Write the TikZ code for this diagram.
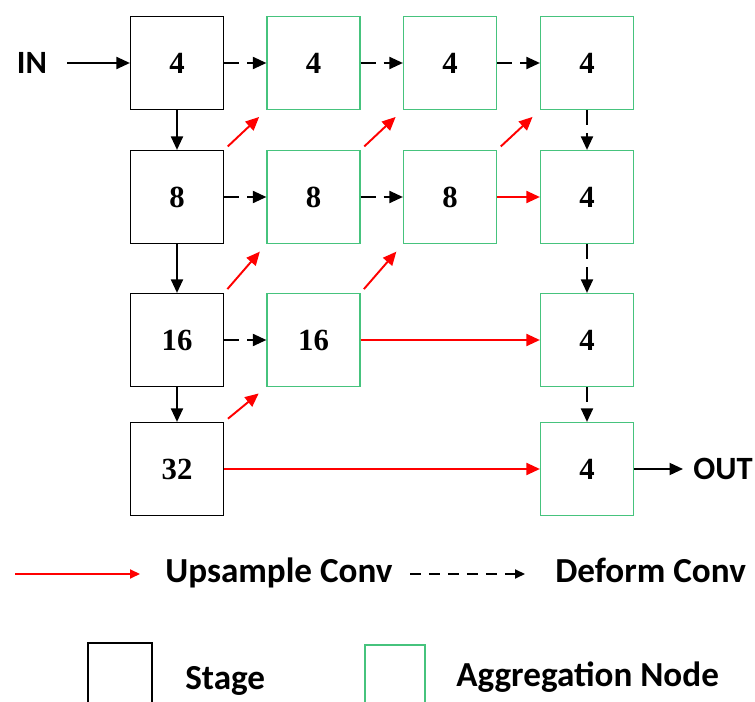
\documentclass[tikz,border=0pt]{standalone}
\usepackage{fontspec}
\setmainfont{Liberation Serif}
\newfontfamily\labelfont{Carlito}
\usetikzlibrary{arrows.meta}
\definecolor{aggGreen}{RGB}{70,195,125}
\definecolor{upRed}{RGB}{255,0,0}
\tikzset{
  stagebox/.style={draw=black, line width=0.7pt, minimum size=1.86cm, inner sep=0pt,
    font=\fontsize{17.5}{20}\selectfont\bfseries},
  aggbox/.style={stagebox, draw=aggGreen},
  plain/.style={-{Triangle[length=0.27cm,width=0.24cm]}, line width=1.1pt},
  deform/.style={plain, dash pattern=on 0.3cm off 0.16cm},
  upconv/.style={plain, draw=upRed, fill=upRed},
  diag/.style={upconv, shorten <=0.1cm, shorten >=0.2cm},
  lbl/.style={inner sep=0pt, font=\fontsize{18.5}{21}\selectfont\labelfont\bfseries},
  keytext/.style={inner sep=0pt, font=\fontsize{20}{23}\selectfont\labelfont\bfseries},
  keytip/.style={-{Triangle[length=0.2cm,width=0.18cm]}, line width=1.1pt},
}
\begin{document}
\begin{tikzpicture}[x=0.02cm, y=-0.02cm]
  %%%%% START %%%%%
  \useasboundingbox (0,0) rectangle (755,702);

  % stages
  \node[stagebox] (s1) at (177,63) {4};
  \node[stagebox] (s2) at (177,197) {8};
  \node[stagebox] (s3) at (177,340) {16};
  \node[stagebox] (s4) at (177,469) {32};

  % aggregation nodes
  \node[aggbox] (g12) at (313.5,63) {4};
  \node[aggbox] (g13) at (450,63) {4};
  \node[aggbox] (g14) at (587,63) {4};
  \node[aggbox] (g22) at (313.5,197) {8};
  \node[aggbox] (g23) at (450,197) {8};
  \node[aggbox] (g24) at (587,197) {4};
  \node[aggbox] (g32) at (313.5,340) {16};
  \node[aggbox] (g34) at (587,340) {4};
  \node[aggbox] (g44) at (587,469) {4};

  \node[lbl] (in) at (32,63) {IN};
  \node[lbl, anchor=west] (out) at (693,469) {OUT};

  \draw[plain] (in) -- (s1) [shorten <=0.4cm];
  \draw[plain, shorten >=0.2cm] (g44) -- (out);

  % down the stages
  \draw[plain] (s1) -- (s2);
  \draw[plain] (s2) -- (s3);
  \draw[plain] (s3) -- (s4);

  % deform conv
  \draw[deform] (s1) -- (g12);
  \draw[deform] (g12) -- (g13);
  \draw[deform] (g13) -- (g14);
  \draw[deform] (s2) -- (g22);
  \draw[deform] (g22) -- (g23);
  \draw[deform] (s3) -- (g32);
  \draw[deform] (g14) -- (g24);
  \draw[deform] (g24) -- (g34);
  \draw[deform] (g34) -- (g44);

  % upsample conv
  \draw[upconv] (g23) -- (g24);
  \draw[upconv] (g32) -- (g34);
  \draw[upconv] (s4) -- (g44);
  \draw[diag] (s2.north east) -- (g12.south west);
  \draw[diag] (g22.north east) -- (g13.south west);
  \draw[diag] (g23.north east) -- (g14.south west);
  \draw[diag] (s3.north east) -- (g22.south west);
  \draw[diag] (g32.north east) -- (g23.south west);
  \draw[diag] (s4.north east) -- (g32.south west);

  % legend
  \coordinate (upA) at (15,574);
  \node[keytext, anchor=base west] (upT) at (165,583) {Upsample Conv};
  \draw[keytip, draw=upRed, fill=upRed, shorten >=0.5cm] (upA) -- (upA -| upT.west);
  \coordinate (dfA) at (410,574);
  \node[keytext, anchor=base west] (dfT) at (555,583) {Deform Conv};
  \draw[keytip, dash pattern=on 0.22cm off 0.16cm, shorten >=0.6cm] (dfA) -- (dfA -| dfT.west);

  \draw[line width=0.7pt] (88,702) -- (88,643) -- (152,643) -- (152,702);
  \node[keytext, anchor=base west] (stT) at (185,690) {Stage};
  \draw[line width=0.7pt, draw=aggGreen] (365,702) -- (365,645) -- (425,645) -- (425,702);
  \node[keytext, anchor=base west] (agT) at (456,687) {Aggregation Node};
  %%%%% END %%%%%
\end{tikzpicture}
\end{document}
